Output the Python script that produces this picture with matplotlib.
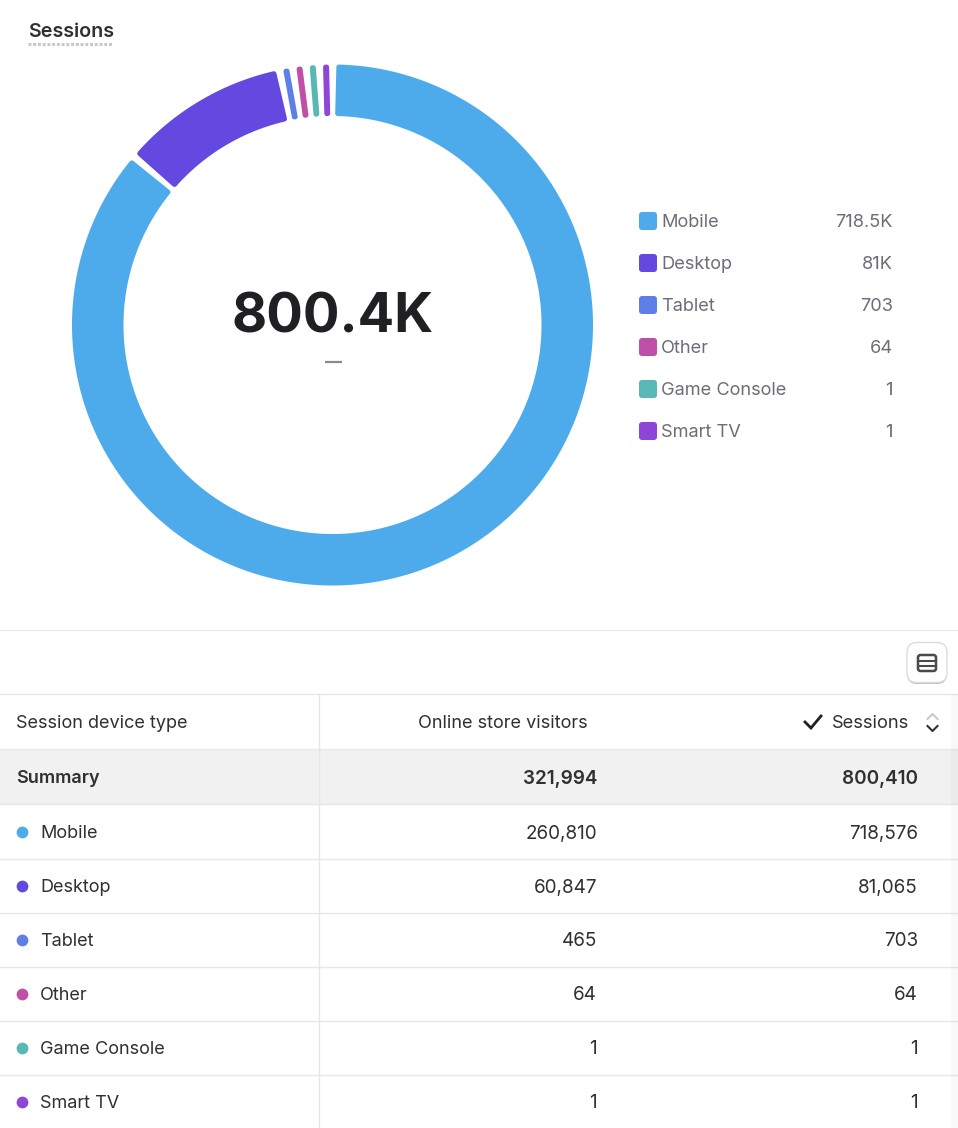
import numpy as np
import matplotlib
matplotlib.use("Agg")
import matplotlib.pyplot as plt
from matplotlib.patches import Polygon, FancyBboxPatch, Rectangle

plt.rcParams["font.family"] = ["Inter", "DejaVu Sans"]

devices = ["Mobile", "Desktop", "Tablet", "Other", "Game Console", "Smart TV"]
visitors = [260810, 60847, 465, 64, 1, 1]
sessions = [718576, 81065, 703, 64, 1, 1]
legend_values = ["718.5K", "81K", "703", "64", "1", "1"]
colors = ["#4dabec", "#6349e0", "#5f7fe8", "#c04fa8", "#57b8b5", "#8f45d8"]
summary_visitors = 321994
summary_sessions = 800410
total_label = "800.4K"

fig = plt.figure(figsize=(9.58, 11.28), dpi=100)
ax = fig.add_axes([0, 0, 1, 1])
ax.set_xlim(0, 958)
ax.set_ylim(1128, 0)
ax.axis("off")

# donut, pixel coords
cx, cy = 332.5, 325
r_out, r_in = 260.5, 209
gap = 1.5
min_sweep = 1.45


def slice_shape(a0, a1, color):
    # angles clockwise from 12 o'clock, shrunk a bit so the stroke rounds the corners
    pad = 2.5
    rmid = (r_out + r_in) / 2
    da = np.degrees(pad / rmid)
    if a1 - a0 - 2 * da < 0.1:
        da = (a1 - a0) / 2 - 0.05
    t = np.radians(np.linspace(a0 + da, a1 - da, max(int(a1 - a0) * 3, 3)))
    xo = cx + (r_out - pad) * np.sin(t)
    yo = cy - (r_out - pad) * np.cos(t)
    xi = cx + (r_in + pad) * np.sin(t[::-1])
    yi = cy - (r_in + pad) * np.cos(t[::-1])
    pts = np.column_stack([np.r_[xo, xi], np.r_[yo, yi]])
    ax.add_patch(Polygon(pts, closed=True, facecolor=color, edgecolor=color,
                         linewidth=3.6, joinstyle="round"))


# small slices get a minimum sweep, mobile gives up the room for them
total = sum(sessions)
sweeps = [max(s / total * 360, min_sweep) for s in sessions]
sweeps[0] = 360 - sum(sweeps[1:]) - gap * len(sweeps)
start = 0.8
for sweep, col in zip(sweeps, colors):
    slice_shape(start, start + sweep, col)
    start += sweep + gap

ax.text(332.5, 318, total_label, ha="center", va="center", fontsize=39,
        fontweight="bold", color="#1f1f24")
ax.plot([325, 342], [362, 362], color="#8a8a8a", lw=1.6, solid_capstyle="butt")

# title
ax.text(28, 32, "Sessions", ha="left", va="center", fontsize=14.2,
        fontweight="semibold", color="#303030")
ax.plot([28, 113], [43.5, 43.5], color="#c8c8c8", lw=2.2, dashes=(0.95, 0.6))

# legend
legend_y = [221, 263, 305, 347, 389, 431]
for name, val, col, y in zip(devices, legend_values, colors, legend_y):
    ax.add_patch(FancyBboxPatch((641, y - 7), 14, 14,
                                boxstyle="round,pad=2,rounding_size=3",
                                facecolor=col, edgecolor="none"))
    ax.text(661, y + 1.5, name, ha="left", va="center", fontsize=13.1, color="#6d6d78")
    ax.text(893, y + 1.5, val, ha="right", va="center", fontsize=13.1, color="#6d6d78")

# toolbar
ax.plot([0, 958], [629.5, 629.5], color="#ebebeb", lw=1)
ax.add_patch(FancyBboxPatch((910, 647), 34, 34,
                            boxstyle="round,pad=3,rounding_size=10",
                            facecolor="#bdbdbd", edgecolor="none"))
ax.add_patch(FancyBboxPatch((910, 645.5), 34, 34,
                            boxstyle="round,pad=3,rounding_size=10",
                            facecolor="white", edgecolor="#dcdcdc", lw=1))
ax.add_patch(FancyBboxPatch((918, 655), 18, 16,
                            boxstyle="round,pad=0,rounding_size=2.5",
                            facecolor="none", edgecolor="#4a4a4a", lw=1.8))
ax.plot([918, 936], [660.5, 660.5], color="#4a4a4a", lw=1.5)
ax.plot([918, 936], [665.5, 665.5], color="#4a4a4a", lw=1.5)

# table
ax.add_patch(Rectangle((0, 749), 958, 55, facecolor="#f1f1f1", edgecolor="none"))
row_lines = [693.5, 748.5, 803.5, 858.5, 912.5, 966.5, 1020.5, 1074.5]
for y in row_lines:
    ax.plot([0, 958], [y, y], color="#e8e8e8", lw=1)
ax.plot([319.5, 319.5], [694, 1128], color="#e6e6e6", lw=1)
ax.add_patch(Rectangle((951, 694), 7, 434, facecolor="black", alpha=0.025,
                       edgecolor="none", zorder=3))

head_col = "#303030"
text_size = 13
num_size = 13.6
ax.text(16, 723.5, "Session device type", ha="left", va="center", fontsize=text_size, color=head_col)
ax.text(588, 723.5, "Online store visitors", ha="right", va="center", fontsize=text_size, color=head_col)
ax.text(909, 723.5, "Sessions", ha="right", va="center", fontsize=text_size + 0.2, color=head_col)
ax.plot([805, 811, 821], [722, 728, 716], color="#1f1f1f", lw=2, solid_joinstyle="miter")
ax.plot([927.5, 932.5, 937.5], [719, 714, 719], color="#c9c9c9", lw=1.5)
ax.plot([927.5, 932.5, 937.5], [726, 731, 726], color="#303030", lw=1.5)

ax.text(16, 778.5, "Summary", ha="left", va="center", fontsize=text_size,
        fontweight="semibold", color=head_col)
ax.text(597, 778.5, f"{summary_visitors:,}", ha="right", va="center", fontsize=num_size,
        fontweight="semibold", color=head_col)
ax.text(918, 778.5, f"{summary_sessions:,}", ha="right", va="center", fontsize=num_size,
        fontweight="semibold", color=head_col)

table_y = [832, 886, 940, 994, 1048, 1102]
for name, v, s, col, y in zip(devices, visitors, sessions, colors, table_y):
    ax.scatter([22], [y], s=72, color=col, linewidths=0)
    ax.text(40, y + 1.5, name, ha="left", va="center", fontsize=text_size, color=head_col)
    ax.text(597, y + 1.5, f"{v:,}", ha="right", va="center", fontsize=num_size, color=head_col)
    ax.text(918, y + 1.5, f"{s:,}", ha="right", va="center", fontsize=num_size, color=head_col)

fig.savefig("out.png", dpi=100, facecolor="white")
